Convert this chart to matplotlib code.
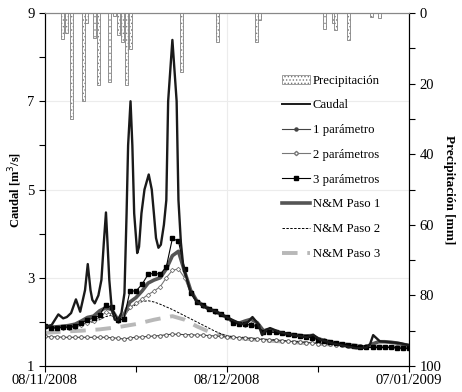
import matplotlib
matplotlib.use("Agg")
import matplotlib.pyplot as plt
from matplotlib.patches import Patch
from matplotlib.lines import Line2D

plt.rcParams['font.family'] = ['Liberation Serif', 'DejaVu Serif']
plt.rcParams['hatch.linewidth'] = 0.6

# precipitation (days since 08/11/2008, mm)
precip_day = [2.9, 3.6, 4.3, 6.3, 6.9, 8.2, 8.8, 10.7, 11.5, 12.1, 12.7, 13.5, 14.1,
              22.5, 28.4, 34.9, 35.4, 46.0, 47.5, 47.9, 50.0, 53.8, 55.2]
precip_mm = [7.4, 5.7, 30.0, 25.0, 2.7, 7.1, 20.4, 19.6, 0.9, 6.2, 8.3, 20.4, 10.3,
             16.8, 8.1, 8.1, 2.0, 4.6, 2.9, 4.8, 7.6, 1.0, 1.5]

# observed discharge
q_day = [0, 1.1, 2.2, 3.0, 3.6, 4.3, 5.1, 5.8, 6.6, 7.05, 7.5, 7.8, 8.2, 8.8, 9.3, 9.7,
         10.05, 10.3, 10.6, 11.0, 11.5, 12.0, 12.6, 13.1, 13.45, 13.7, 14.1, 14.4, 14.7,
         15.2, 15.5, 15.9, 16.4, 17.1, 17.6, 17.95, 18.3, 18.7, 19.1, 19.6, 20.0, 20.3,
         21.0, 21.7, 22.0, 22.4, 22.8, 23.9, 25.0, 26.6, 28.3, 29.9, 31.6, 32.6, 33.5,
         34.2, 35.1, 35.8, 36.4, 37.1, 38.7, 40.9, 43.2, 44.2, 45.3, 47.5, 49.5, 51.4,
         53.0, 53.6, 54.1, 55.2, 58.5, 60]
q_obs = [1.89, 1.93, 2.17, 2.08, 2.11, 2.2, 2.51, 2.23, 2.72, 3.31, 2.72, 2.5, 2.42, 2.6,
         2.95, 3.8, 4.48, 3.8, 2.95, 2.3, 2.05, 2.04, 2.2, 2.65, 4.46, 6.0, 7.0, 6.0, 4.46,
         3.56, 3.7, 4.46, 5.0, 5.34, 5.0, 4.46, 3.9, 3.68, 3.75, 4.2, 4.76, 7.0, 8.39, 7.0,
         4.76, 3.8, 3.25, 2.72, 2.46, 2.31, 2.23, 2.11, 2.0, 1.95, 2.0, 2.11, 1.96, 1.70,
         1.82, 1.86, 1.77, 1.70, 1.65, 1.71, 1.60, 1.51, 1.45, 1.40, 1.42, 1.5, 1.70, 1.56,
         1.52, 1.47]

days = list(range(61))
q_1p = [1.67, 1.66, 1.66, 1.65, 1.65, 1.65, 1.65, 1.65, 1.65, 1.65, 1.65, 1.64, 1.63, 1.61,
        1.64, 1.65, 1.66, 1.67, 1.68, 1.69, 1.71, 1.72, 1.72, 1.71, 1.71, 1.70, 1.70, 1.69,
        1.68, 1.67, 1.66, 1.65, 1.64, 1.63, 1.62, 1.61, 1.60, 1.59, 1.58, 1.57, 1.56, 1.55,
        1.54, 1.53, 1.52, 1.51, 1.50, 1.49, 1.48, 1.47, 1.46, 1.46, 1.45, 1.45, 1.44, 1.44,
        1.43, 1.43, 1.43, 1.42, 1.42]
q_2p = [1.88, 1.86, 1.86, 1.87, 1.87, 1.88, 1.93, 1.98, 2.03, 2.10, 2.22, 2.18, 2.03, 2.10,
        2.33, 2.42, 2.52, 2.62, 2.70, 2.80, 3.00, 3.17, 3.20, 3.00, 2.65, 2.46, 2.37, 2.29,
        2.23, 2.17, 2.09, 1.98, 1.95, 1.94, 1.95, 1.92, 1.78, 1.78, 1.76, 1.74, 1.72, 1.70,
        1.68, 1.66, 1.65, 1.61, 1.58, 1.55, 1.52, 1.50, 1.48, 1.46, 1.44, 1.43, 1.43, 1.43,
        1.43, 1.43, 1.42, 1.41, 1.41]
q_3p = [1.90, 1.86, 1.87, 1.88, 1.88, 1.90, 1.97, 2.05, 2.08, 2.15, 2.39, 2.33, 2.04, 2.06,
        2.70, 2.70, 2.85, 3.08, 3.10, 3.08, 3.25, 3.89, 3.83, 3.20, 2.65, 2.46, 2.38, 2.30,
        2.24, 2.18, 2.10, 1.98, 1.96, 1.95, 1.92, 1.90, 1.78, 1.77, 1.76, 1.74, 1.72, 1.70,
        1.68, 1.66, 1.64, 1.60, 1.57, 1.55, 1.52, 1.50, 1.48, 1.45, 1.43, 1.42, 1.42, 1.42,
        1.42, 1.42, 1.41, 1.40, 1.40]
q_nm1 = [1.90, 1.88, 1.89, 1.90, 1.92, 1.95, 2.02, 2.10, 2.13, 2.25, 2.32, 2.28, 2.05, 2.15,
         2.45, 2.55, 2.70, 2.88, 2.95, 3.00, 3.20, 3.50, 3.60, 3.15, 2.72, 2.48, 2.38, 2.30,
         2.24, 2.17, 2.10, 2.00, 1.97, 2.02, 2.06, 1.98, 1.80, 1.82, 1.78, 1.75, 1.72, 1.71,
         1.69, 1.68, 1.69, 1.62, 1.58, 1.55, 1.52, 1.50, 1.48, 1.46, 1.44, 1.43, 1.50, 1.55,
         1.55, 1.54, 1.52, 1.49, 1.47]
q_nm2 = [1.88, 1.87, 1.87, 1.88, 1.90, 1.92, 1.95, 1.98, 2.00, 2.05, 2.12, 2.15, 2.05, 2.15,
         2.30, 2.40, 2.46, 2.48, 2.45, 2.40, 2.34, 2.28, 2.21, 2.14, 2.07, 2.00, 1.93, 1.86,
         1.79, 1.73, 1.68, 1.66, 1.65, 1.64, 1.63, 1.62, 1.61, 1.60, 1.59, 1.58, 1.57, 1.56,
         1.55, 1.54, 1.53, 1.52, 1.51, 1.50, 1.49, 1.48, 1.47, 1.46, 1.45, 1.44, 1.44, 1.43,
         1.43, 1.42, 1.42, 1.42, 1.41]
nm3_day = [0, 3, 6, 9, 12, 15, 18, 21, 23, 25, 27, 30, 33, 36, 40, 45, 50, 55, 60]
q_nm3 = [1.75, 1.78, 1.80, 1.83, 1.88, 1.95, 2.05, 2.13, 2.05, 1.90, 1.78, 1.66, 1.62, 1.58,
         1.55, 1.50, 1.47, 1.44, 1.42]

xtick_pos = [0, 30, 60]
xtick_labels = ['08/11/2008', '08/12/2008', '07/01/2009']

fig = plt.figure(figsize=(4.62, 3.92), dpi=100)
ax = fig.add_axes([0.0974, 0.0663, 0.7878, 0.9005])
ax2 = ax.twinx()

ax.plot(nm3_day, q_nm3, color='#b8b8b8', lw=2.8, dashes=(4, 2.5), zorder=2)
ax.plot(days, q_nm2, color='black', lw=0.7, dashes=(2.5, 1.5), zorder=3)
ax.plot(days, q_nm1, color='#555555', lw=2.6, zorder=3)
ax.plot(days, q_1p, color='#444444', lw=0.8, marker='o', ms=2.6, mfc='white', mew=0.6, zorder=4)
ax.plot(days, q_2p, color='#777777', lw=0.8, marker='D', ms=2.3, mfc='white', mew=0.6, zorder=4)
ax.plot(days, q_3p, color='black', lw=0.8, marker='s', ms=2.6, zorder=4)
ax.plot(q_day, q_obs, color='#1a1a1a', lw=1.7, zorder=5)

ax.set_xlim(0, 60)
ax.set_ylim(1, 9)
ax.set_xticks(xtick_pos)
ax.set_xticklabels(xtick_labels)
ax.set_xticks([15, 45], minor=True)
ax.set_yticks([1, 3, 5, 7, 9])
ax.set_yticks([2, 4, 6, 8], minor=True)
ax.grid(True, which='major', color='#ececec', lw=0.8)
ax.set_axisbelow(True)
ax.tick_params(which='both', direction='out', length=4, width=0.8, labelsize=10.5)
ax.tick_params(axis='x', pad=2)
ax.set_ylabel('Caudal [m$^3$/s]', fontsize=9, fontweight='bold', labelpad=2)
ax.spines['top'].set_color('#888888')

ax2.bar(precip_day, precip_mm, width=0.5, color='white', edgecolor='#808080',
        hatch='.....', lw=0.6)
ax2.set_ylim(100, 0)
ax2.set_yticks([0, 20, 40, 60, 80, 100])
ax2.set_yticks([10, 30, 50, 70, 90], minor=True)
ax2.tick_params(which='both', direction='out', length=4, width=0.8, labelsize=10.5)
ax2.set_ylabel('Precipitación [mm]', fontsize=9.5, fontweight='bold', rotation=270, labelpad=10)
ax2.spines['top'].set_color('#888888')

handles = [
    Patch(facecolor='white', edgecolor='#777777', hatch='.....', lw=0.5),
    Line2D([], [], color='#1a1a1a', lw=1.4),
    Line2D([], [], color='#444444', lw=0.8, marker='o', ms=2.2, mfc='#444444'),
    Line2D([], [], color='#777777', lw=0.8, marker='D', ms=2.2, mfc='white'),
    Line2D([], [], color='black', lw=0.8, marker='s', ms=2.4),
    Line2D([], [], color='#555555', lw=2.6),
    Line2D([], [], color='black', lw=0.7, dashes=(2.5, 1.5)),
    Line2D([], [], color='#b8b8b8', lw=2.8, dashes=(4, 2.5)),
]
labels = ['Precipitación', 'Caudal', '1 parámetro', '2 parámetros', '3 parámetros',
          'N&M Paso 1', 'N&M Paso 2', 'N&M Paso 3']
ax2.legend(handles, labels, loc='upper right', bbox_to_anchor=(0.935, 0.84), frameon=False,
           fontsize=9.2, handlelength=2.2, handletextpad=0.2, labelspacing=1.0,
           borderaxespad=0)

fig.savefig('out.png', dpi=100)
